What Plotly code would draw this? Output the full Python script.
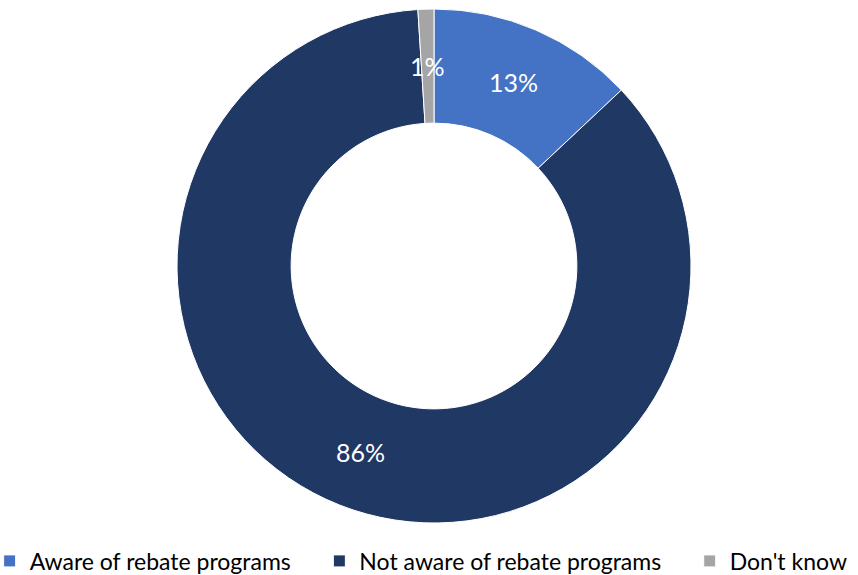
import math
import plotly.graph_objects as go

# Survey responses: awareness of rebate programs
categories = ["Aware of rebate programs", "Not aware of rebate programs", "Don't know"]
shares = [13, 86, 1]
slice_colors = ["#4472C4", "#203864", "#A5A5A5"]

# extra spacing after each legend entry (non-breaking spaces)
legend_pad = [4, 4, 0]

W, H = 858, 575
M = dict(l=10, r=0, t=9, b=52, autoexpand=False)
HOLE = 0.556

legend_labels = [c + "\u00a0" * p for c, p in zip(categories, legend_pad)]

fig = go.Figure(
    go.Pie(
        labels=legend_labels,
        values=shares,
        hole=HOLE,
        sort=False,
        direction="clockwise",
        rotation=0,
        marker=dict(colors=slice_colors, line=dict(color="white", width=1)),
        textinfo="none",
        customdata=categories,
        hovertemplate="%{customdata}: %{percent}<extra></extra>",
    )
)

# Percentage labels placed at the middle of each ring segment
plot_w = W - M["l"] - M["r"]
plot_h = H - M["t"] - M["b"]
radius = min(plot_w, plot_h) / 2
mid_r = radius * (1 + HOLE) / 2
total = sum(shares)
cum = 0
for v in shares:
    ang = 2 * math.pi * (cum + v / 2) / total
    cum += v
    dx = mid_r * math.sin(ang) / plot_w
    dy = mid_r * math.cos(ang) / plot_h
    fig.add_annotation(
        x=0.5 + dx, y=0.5 + dy, xref="paper", yref="paper",
        xanchor="center", yanchor="middle",
        text=f"{v}%", showarrow=False,
        font=dict(family="Lato, sans-serif", size=25, color="white"),
    )

fig.update_layout(
    width=W,
    height=H,
    margin=M,
    paper_bgcolor="white",
    plot_bgcolor="white",
    showlegend=True,
    legend=dict(
        orientation="h",
        x=-0.024,
        xanchor="left",
        y=-0.032,
        yanchor="top",
        font=dict(family="Lato, sans-serif", size=23, color="black"),
        itemwidth=30,
        traceorder="normal",
    ),
)

fig.write_html("out.html")
